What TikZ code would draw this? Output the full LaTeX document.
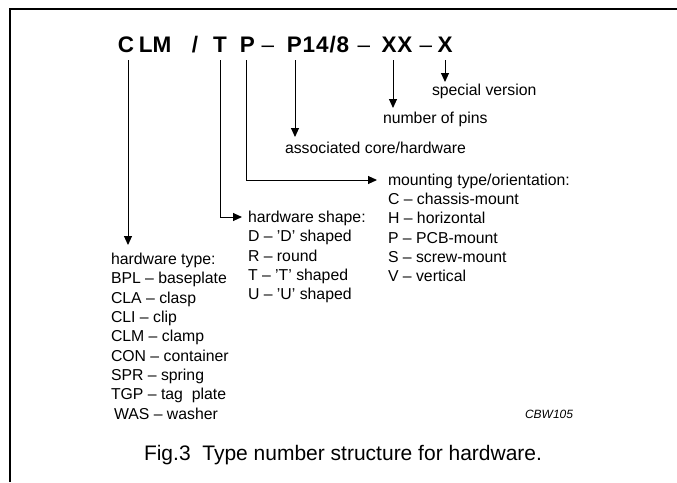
\documentclass[tikz,border=0pt]{standalone}
\usepackage{fontspec}
\setmainfont{Liberation Sans}
\usetikzlibrary{arrows.meta}
\begin{document}
\begin{tikzpicture}[x=1pt,y=-1pt]
\tikzset{
  every node/.style={inner sep=0pt,outer sep=0pt},
  ttl/.style={font=\fontsize{22.5}{22.5}\selectfont\bfseries,anchor=base},
  ttw/.style={font=\fontsize{22.5}{22.5}\selectfont\bfseries\addfontfeature{LetterSpace=4},anchor=base},
  ttd/.style={font=\fontsize{22.5}{22.5}\selectfont,anchor=base},
  lst/.style={font=\fontsize{15.8}{19}\selectfont,anchor=base west},
  arr/.style={-{Triangle[length=9pt,width=8pt]},line width=1pt},
  frame/.style={line width=2pt}
}
\useasboundingbox (0,0) rectangle (677,482);
% frame
\draw[frame] (10,482) -- (10,9.2) -- (677,9.2);
% title
\node[ttl] (tC)   at (126,52) {C};
\node[ttl] (tLM)  at (155,52) {LM};
\node[ttl] (tSl)  at (195,52) {/};
\node[ttl] (tT)   at (220,52) {T};
\node[ttl] (tP)   at (247.5,52) {P};
\node[ttd] (td1)  at (268,52) {–};
\node[ttw] (tP14) at (318,52) {P14/8};
\node[ttd] (td2)  at (364,52) {–};
\node[ttw] (tXX)  at (397,52) {XX};
\node[ttd] (td3)  at (426,52) {–};
\node[ttl] (tX)   at (445,52) {X};
% single labels
\node[lst] (spec)  at (432,95.6) {special version};
\node[lst] (pins)  at (383,123.4) {number of pins};
\node[lst] (assoc) at (285,153.4) {associated core/hardware};
% mounting list
\node[lst] (mount) at (388,185.5) {mounting type/orientation:};
\node[lst] (m1) at (388,204.7) {C – chassis-mount};
\node[lst] (m2) at (388,223.9) {H – horizontal};
\node[lst] (m3) at (388,243.1) {P – PCB-mount};
\node[lst] (m4) at (388,262.3) {S – screw-mount};
\node[lst] (m5) at (388,281.5) {V – vertical};
% shape list
\node[lst] (hshape) at (248,222.6) {hardware shape:};
\node[lst] (s1) at (248,241.8) {D – 'D' shaped};
\node[lst] (s2) at (248,261.0) {R – round};
\node[lst] (s3) at (248,280.2) {T – 'T' shaped};
\node[lst] (s4) at (248,299.4) {U – 'U' shaped};
% type list
\node[lst] (htype) at (111,264.6) {hardware type:};
\node[lst] (h1) at (111,283.9) {BPL – baseplate};
\node[lst] (h2) at (111,303.2) {CLA – clasp};
\node[lst] (h3) at (111,322.5) {CLI – clip};
\node[lst] (h4) at (111,341.8) {CLM – clamp};
\node[lst] (h5) at (111,361.1) {CON – container};
\node[lst] (h6) at (111,380.4) {SPR – spring};
\node[lst] (h7) at (111,399.7) {TGP – tag\ \ plate};
\node[lst] (h8) at (114,419.0) {WAS – washer};
% code and caption
\node[anchor=base west,font=\fontsize{12}{12}\selectfont\itshape] (code) at (525,418.8) {CBW105};
\node[anchor=base west,font=\fontsize{21}{21}\selectfont] (cap) at (144,460) {Fig.3\ \ Type number structure for hardware.};
% start points under the title
\coordinate (sC)   at (128,60);
\coordinate (sT)   at (220,60);
\coordinate (sP)   at (246,60);
\coordinate (sP14) at (295,60);
\coordinate (sXX)  at (393,60);
\coordinate (sX)   at (445,60);
% end points just above / left of the labels
\coordinate (eX)   at ([yshift=13.6pt]spec.base);
\coordinate (eXX)  at ([yshift=15.4pt]pins.base);
\coordinate (eP14) at ([yshift=16.4pt]assoc.base);
\coordinate (eP)   at ([xshift=-11pt,yshift=5.5pt]mount.base west);
\coordinate (eT)   at ([xshift=-6pt,yshift=5.6pt]hshape.base west);
\coordinate (eC)   at ([yshift=19.6pt]htype.base);
% connectors
\draw[arr] (sX)   -- (sX   |- eX);
\draw[arr] (sXX)  -- (sXX  |- eXX);
\draw[arr] (sP14) -- (sP14 |- eP14);
\draw[arr] (sP)   |- (eP);
\draw[arr] (sT)   |- (eT);
\draw[arr] (sC)   -- (sC   |- eC);
\end{tikzpicture}
\end{document}
